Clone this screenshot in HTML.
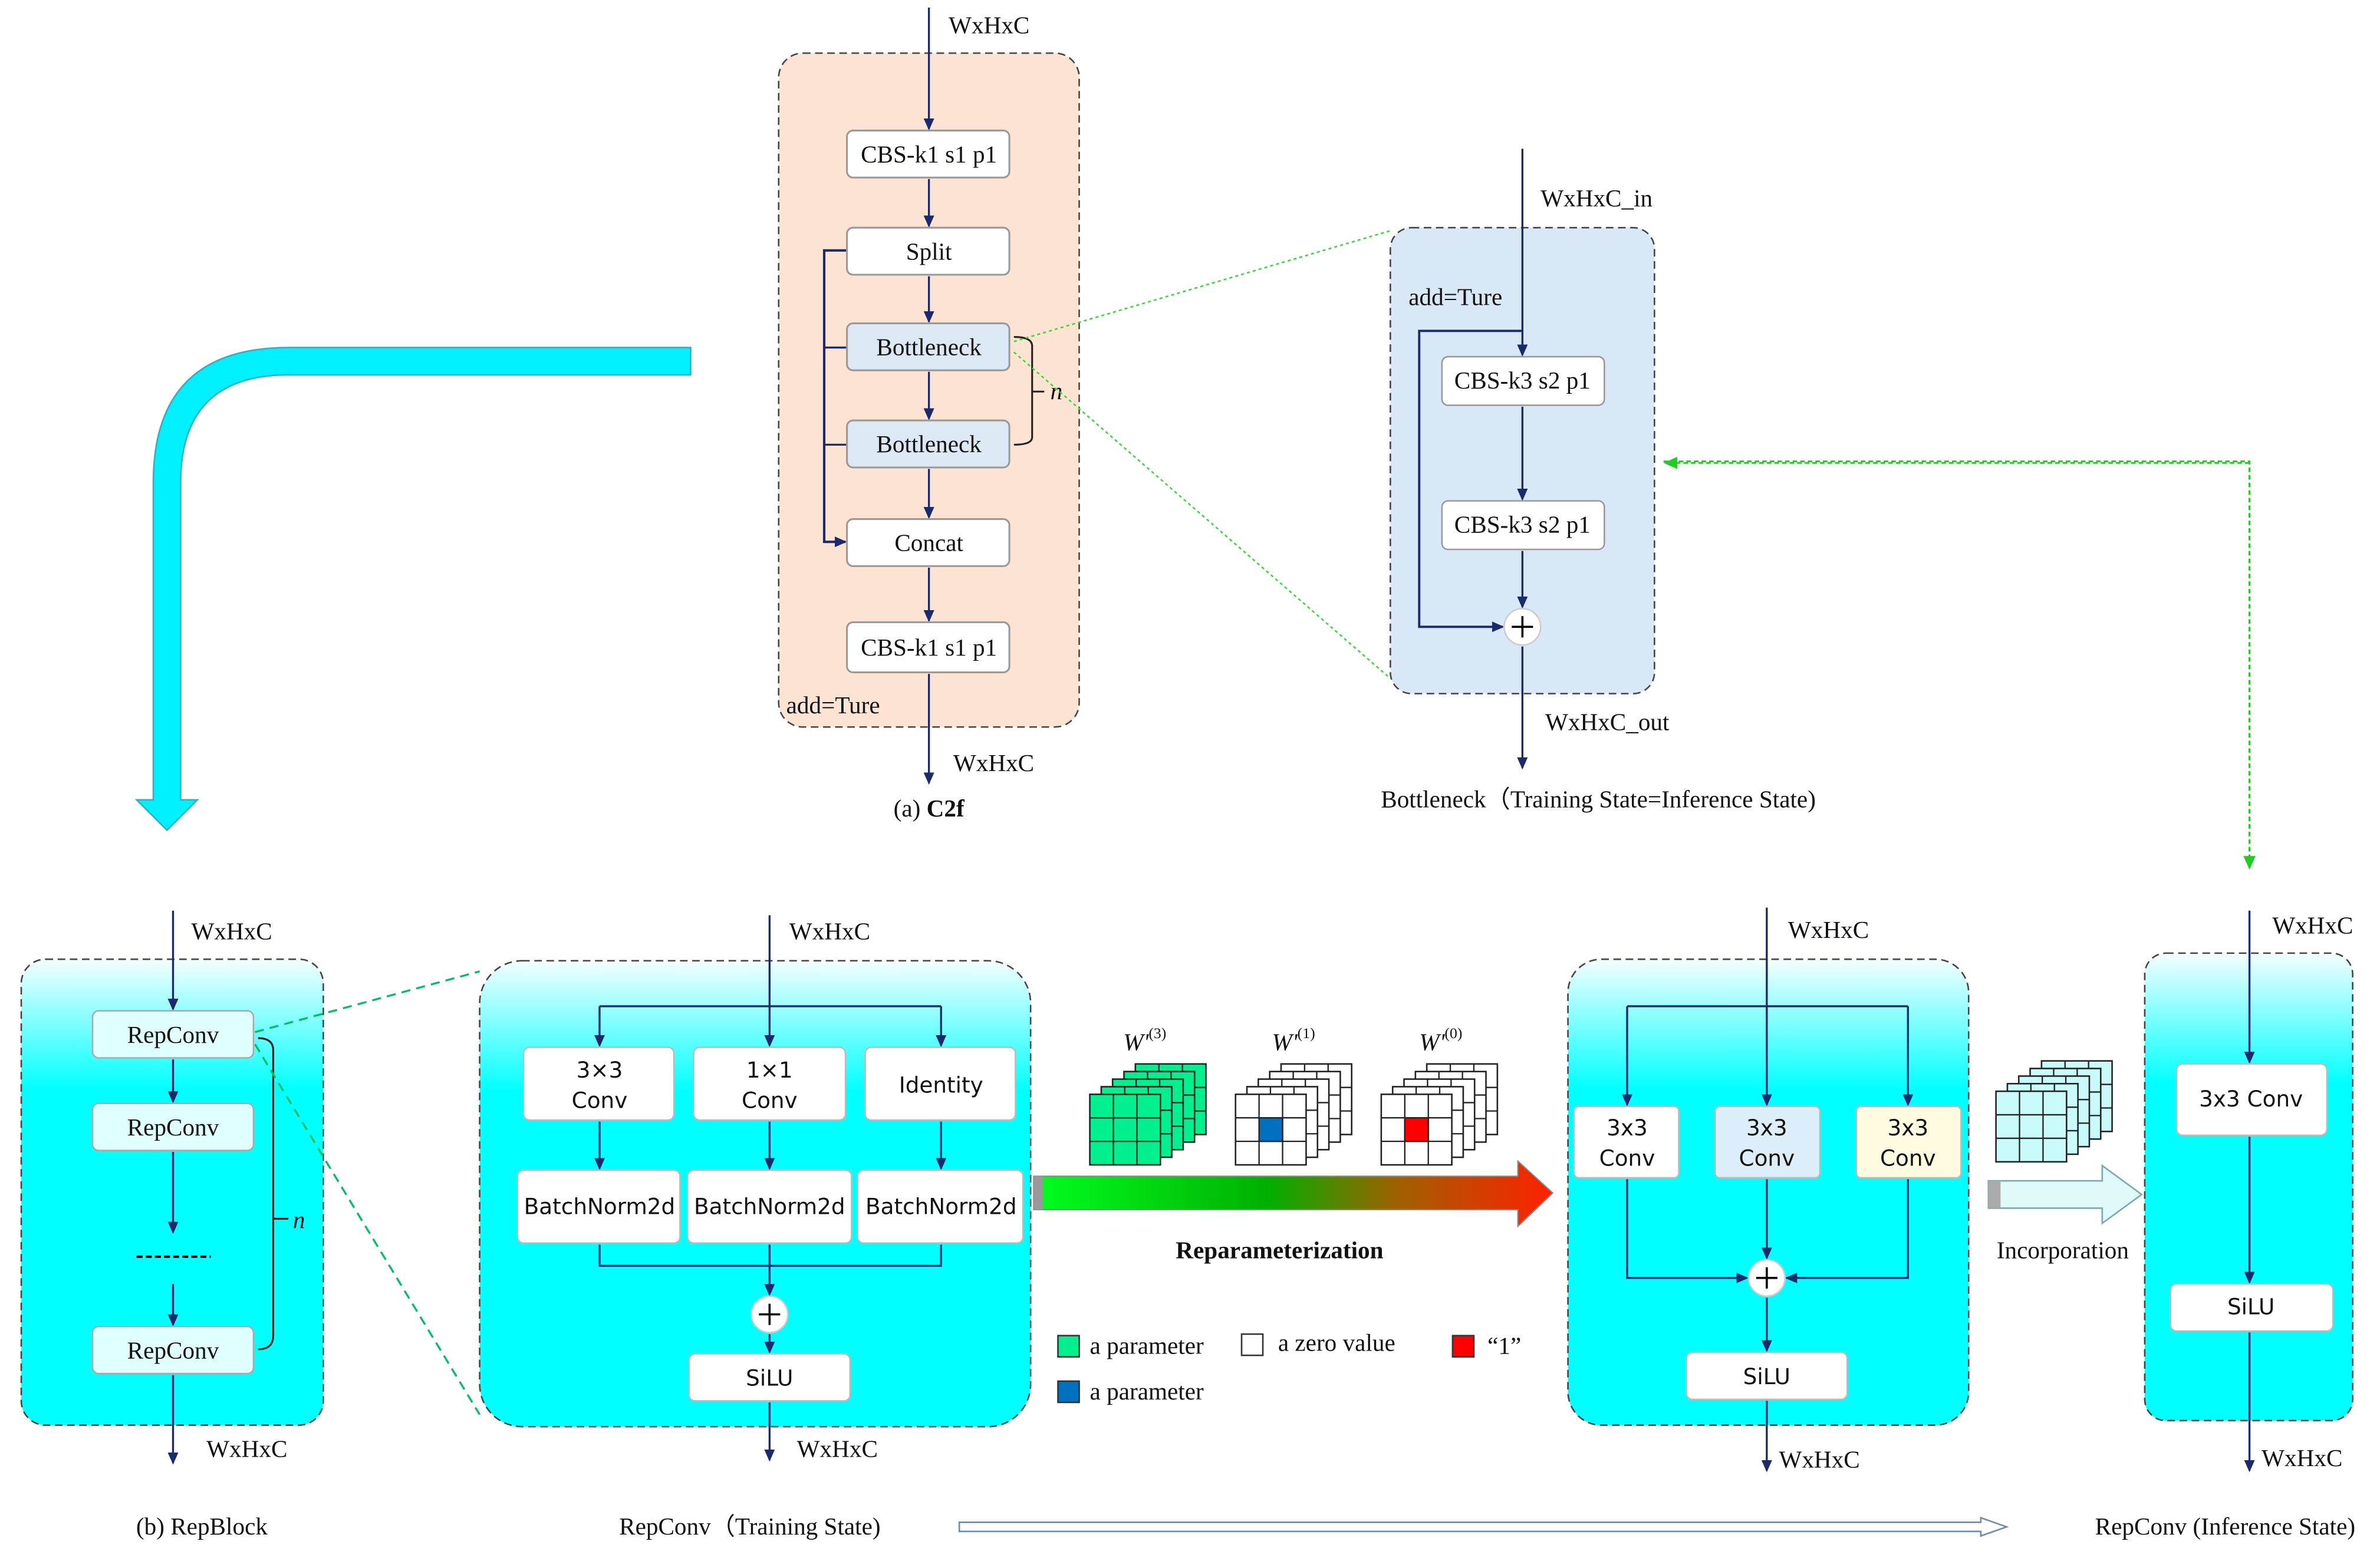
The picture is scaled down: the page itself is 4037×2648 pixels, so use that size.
<!DOCTYPE html>
<html><head><meta charset="utf-8"><style>
html,body{margin:0;padding:0;background:#fff;}
svg{display:block;}
text{font-family:"Liberation Serif",serif;font-size:16px;fill:#111;}
.s{font-family:"DejaVu Sans","Liberation Sans",sans-serif;font-size:14.5px;}
</style></head><body>
<svg xmlns="http://www.w3.org/2000/svg" xmlns:xlink="http://www.w3.org/1999/xlink" width="4037" height="2648" viewBox="0 0 1568 1028.5" preserveAspectRatio="none">
<defs>
<marker id="a" markerWidth="8" markerHeight="8" refX="7" refY="4" orient="auto" markerUnits="userSpaceOnUse"><path d="M0,0.5 L8,4 L0,7.5 Z" fill="#1a2a6c"/></marker>
<marker id="g" markerWidth="9" markerHeight="9" refX="8" refY="4.5" orient="auto" markerUnits="userSpaceOnUse"><path d="M0,0.5 L9,4.5 L0,8.5 Z" fill="#22cc22"/></marker>
<linearGradient id="cy" x1="0" y1="0" x2="0" y2="1"><stop offset="0" stop-color="#f4feff"/><stop offset="0.28" stop-color="#00ffff"/><stop offset="1" stop-color="#00ffff"/></linearGradient>
<linearGradient id="rg" x1="0" y1="0" x2="1" y2="0"><stop offset="0" stop-color="#00ff20"/><stop offset="0.45" stop-color="#00b000"/><stop offset="0.7" stop-color="#a06000"/><stop offset="1" stop-color="#ff2000"/></linearGradient>
<g id="grid"><path d="M15.5,0 V46.5 M31,0 V46.5 M0,15.5 H46.5 M0,31 H46.5" stroke="#222" stroke-width="0.9" fill="none"/><rect x="0" y="0" width="46.5" height="46.5" fill="none" stroke="#222" stroke-width="1"/></g>
<g id="LG"><rect width="46.5" height="46.5" fill="#00f090"/><use xlink:href="#grid"/></g>
<g id="LW"><rect width="46.5" height="46.5" fill="#fff"/><use xlink:href="#grid"/></g>
<g id="LC"><rect width="46.5" height="46.5" fill="#c8fafa"/><use xlink:href="#grid"/></g>
<g id="SG"><use xlink:href="#LG" x="30" y="-20"/><use xlink:href="#LG" x="22.5" y="-15"/><use xlink:href="#LG" x="15" y="-10"/><use xlink:href="#LG" x="7.5" y="-5"/><use xlink:href="#LG"/></g>
<g id="SW"><use xlink:href="#LW" x="30" y="-20"/><use xlink:href="#LW" x="22.5" y="-15"/><use xlink:href="#LW" x="15" y="-10"/><use xlink:href="#LW" x="7.5" y="-5"/><use xlink:href="#LW"/></g>
<g id="SC"><use xlink:href="#LC" x="30" y="-20"/><use xlink:href="#LC" x="22.5" y="-15"/><use xlink:href="#LC" x="15" y="-10"/><use xlink:href="#LC" x="7.5" y="-5"/><use xlink:href="#LC"/></g>
</defs>

<!-- C2f -->
<rect x="513" y="35" width="198" height="444" rx="16" fill="#fde3d2" stroke="#444" stroke-dasharray="5,3"/>
<g stroke="#1a2a6c" stroke-width="1.3" fill="none" marker-end="url(#a)">
<line x1="612" y1="5" x2="612" y2="85"/>
<line x1="612" y1="118" x2="612" y2="149"/>
<line x1="612" y1="182" x2="612" y2="212"/>
<line x1="612" y1="245" x2="612" y2="276"/>
<line x1="612" y1="309" x2="612" y2="341"/>
<line x1="612" y1="374" x2="612" y2="409"/>
<line x1="612" y1="444" x2="612" y2="516"/>
<path d="M558,165 H543 V357 H557" stroke-width="1.6"/>
</g>
<g stroke="#1a2a6c" stroke-width="1.3"><line x1="543" y1="229" x2="558" y2="229"/><line x1="543" y1="293" x2="558" y2="293"/></g>
<path d="M668,222 Q680,222 680,228 V288 Q680,293 668,293 M680,258 H688" stroke="#222" fill="none" stroke-width="1.2"/>
<text x="692" y="263" font-style="italic">n</text>
<g stroke="#999" stroke-width="1.2">
<rect x="558" y="86" width="107" height="31" rx="4" fill="#fff"/>
<rect x="558" y="150" width="107" height="31" rx="4" fill="#fff"/>
<rect x="558" y="213" width="107" height="31" rx="4" fill="#dce9f5"/>
<rect x="558" y="277" width="107" height="31" rx="4" fill="#dce9f5"/>
<rect x="558" y="342" width="107" height="31" rx="4" fill="#fff"/>
<rect x="558" y="410" width="107" height="33" rx="4" fill="#fff"/>
</g>
<g text-anchor="middle">
<text x="612" y="107">CBS-k1 s1 p1</text>
<text x="612" y="171">Split</text>
<text x="612" y="234">Bottleneck</text>
<text x="612" y="298">Bottleneck</text>
<text x="612" y="363">Concat</text>
<text x="612" y="432">CBS-k1 s1 p1</text>
<text x="612" y="538">(a) <tspan font-weight="bold">C2f</tspan></text>
</g>
<text x="625" y="22">WxHxC</text>
<text x="628" y="508">WxHxC</text>
<text x="518" y="470">add=Ture</text>

<!-- Bottleneck -->
<line x1="668" y1="225" x2="916" y2="152" stroke="#33dd33" stroke-width="1" stroke-dasharray="2,2"/>
<line x1="668" y1="232" x2="916" y2="447" stroke="#33dd33" stroke-width="1" stroke-dasharray="2,2"/>
<rect x="916" y="150" width="174" height="307" rx="14" fill="#d9e8f6" stroke="#444" stroke-dasharray="5,3"/>
<g stroke="#1a2a6c" stroke-width="1.3" fill="none" marker-end="url(#a)">
<line x1="1003" y1="98" x2="1003" y2="234"/>
<line x1="1003" y1="268" x2="1003" y2="329"/>
<line x1="1003" y1="363" x2="1003" y2="400"/>
<line x1="1003" y1="426" x2="1003" y2="506"/>
<path d="M1003,218 H935 V413 H990" stroke-width="1.5"/>
</g>
<rect x="950" y="235" width="107" height="32" rx="4" fill="#fff" stroke="#999"/>
<rect x="950" y="330" width="107" height="32" rx="4" fill="#fff" stroke="#999"/>
<circle cx="1003" cy="413" r="12" fill="#fff" stroke="#ccc"/>
<path d="M996,413 H1010 M1003,406 V420" stroke="#000" stroke-width="1.4"/>
<g text-anchor="middle"><text x="1003" y="256">CBS-k3 s2 p1</text><text x="1003" y="351">CBS-k3 s2 p1</text>
<text x="1053" y="532">Bottleneck（Training State=Inference State)</text></g>
<text x="1015" y="136">WxHxC_in</text>
<text x="928" y="201">add=Ture</text>
<text x="1018" y="481">WxHxC_out</text>

<path d="M1096,304 H1482 V572" stroke="#22cc22" stroke-width="1.2" fill="none" stroke-dasharray="3,2" marker-end="url(#g)"/>
<path d="M1482,305 H1097" stroke="#22cc22" stroke-width="1.2" fill="none" stroke-dasharray="3,2" marker-end="url(#g)"/>

<!-- cyan arrow -->
<path d="M455,229 H190 Q101,229 101,318 V527 H90 L110,547 L130,527 H119 V318 Q119,247 190,247 H455 Z" fill="#00f0ff" stroke="#30b0c0" stroke-width="1"/>

<!-- RepBlock -->
<rect x="14" y="632" width="199" height="307" rx="16" fill="url(#cy)" stroke="#444" stroke-dasharray="5,3"/>
<g stroke="#1a2a6c" stroke-width="1.3" fill="none" marker-end="url(#a)">
<line x1="114" y1="600" x2="114" y2="665"/>
<line x1="114" y1="698" x2="114" y2="726"/>
<line x1="114" y1="759" x2="114" y2="812"/>
<line x1="114" y1="846" x2="114" y2="873"/>
<line x1="114" y1="906" x2="114" y2="964"/>
</g>
<line x1="90" y1="828" x2="139" y2="828" stroke="#000" stroke-width="1.5" stroke-dasharray="4,2"/>
<path d="M170,684 Q180,684 180,692 V880 Q180,889 170,889 M180,803 H190" stroke="#222" fill="none" stroke-width="1.2"/>
<text x="193" y="809" font-style="italic">n</text>
<g stroke="#aaa" fill="#e0ffff"><rect x="61" y="666" width="106" height="31" rx="4"/><rect x="61" y="727" width="106" height="31" rx="4"/><rect x="61" y="874" width="106" height="31" rx="4"/></g>
<g text-anchor="middle"><text x="114" y="687">RepConv</text><text x="114" y="748">RepConv</text><text x="114" y="895">RepConv</text>
<text x="133" y="1011">(b) RepBlock</text><text x="494" y="1011">RepConv（Training State)</text><text x="1466" y="1011">RepConv (Inference State)</text></g>
<text x="126" y="619">WxHxC</text><text x="136" y="960">WxHxC</text>
<line x1="168" y1="680" x2="316" y2="640" stroke="#00c060" stroke-width="1.3" stroke-dasharray="6,4"/>
<line x1="168" y1="688" x2="316" y2="932" stroke="#00c060" stroke-width="1.3" stroke-dasharray="6,4"/>

<!-- RepConv training -->
<rect x="316" y="633" width="363" height="307" rx="28" fill="url(#cy)" stroke="#444" stroke-dasharray="5,3"/>
<g stroke="#1a2a6c" stroke-width="1.3" fill="none">
<line x1="507" y1="603" x2="507" y2="663"/>
<line x1="395" y1="663" x2="620" y2="663"/>
<path d="M395,820 V834 H620 V820 M507,820 V834"/>
</g>
<g stroke="#1a2a6c" stroke-width="1.3" fill="none" marker-end="url(#a)">
<line x1="395" y1="663" x2="395" y2="689"/><line x1="507" y1="663" x2="507" y2="689"/><line x1="620" y1="663" x2="620" y2="689"/>
<line x1="395" y1="739" x2="395" y2="770"/><line x1="507" y1="739" x2="507" y2="770"/><line x1="620" y1="739" x2="620" y2="770"/>
<line x1="507" y1="834" x2="507" y2="853"/>
<line x1="507" y1="879" x2="507" y2="891"/>
<line x1="507" y1="924" x2="507" y2="962"/>
</g>
<g stroke="#bbb" fill="#fff">
<rect x="345" y="690" width="99" height="48" rx="4"/><rect x="457" y="690" width="100" height="48" rx="4"/><rect x="570" y="690" width="99" height="48" rx="4"/>
<rect x="341" y="771" width="107" height="48" rx="4"/><rect x="453" y="771" width="108" height="48" rx="4"/><rect x="565" y="771" width="109" height="48" rx="4"/>
<rect x="454" y="892" width="106" height="31" rx="4"/>
</g>
<circle cx="507" cy="866" r="12" fill="#fff" stroke="#ccc"/>
<path d="M500,866 H514 M507,859 V873" stroke="#000" stroke-width="1.4"/>
<g text-anchor="middle">
<text class="s" x="395" y="710">3×3</text><text class="s" x="395" y="730">Conv</text>
<text class="s" x="507" y="710">1×1</text><text class="s" x="507" y="730">Conv</text>
<text class="s" x="620" y="720">Identity</text>
<text class="s" x="395" y="800">BatchNorm2d</text><text class="s" x="507" y="800">BatchNorm2d</text><text class="s" x="620" y="800">BatchNorm2d</text>
<text class="s" x="507" y="913">SiLU</text>
</g>
<text x="520" y="619">WxHxC</text><text x="525" y="960">WxHxC</text>

<!-- reparam arrow -->
<path d="M681,775 H1000 V765 L1023,786 L1000,808 V797 H681 Z" fill="url(#rg)" stroke="#888" stroke-width="0.8"/>
<rect x="681" y="775" width="6" height="22" fill="#999"/>
<text x="843" y="829" text-anchor="middle" font-weight="bold">Reparameterization</text>
<g font-style="italic" font-size="19"><text x="740" y="692" font-size="19">W'<tspan font-size="10" dy="-8" font-style="normal">(3)</tspan></text>
<text x="838" y="692" font-size="19">W'<tspan font-size="10" dy="-8" font-style="normal">(1)</tspan></text>
<text x="935" y="692" font-size="19">W'<tspan font-size="10" dy="-8" font-style="normal">(0)</tspan></text></g>
<use xlink:href="#SG" x="718" y="721"/>
<use xlink:href="#SW" x="814" y="721"/>
<rect x="829.5" y="736.5" width="15.5" height="15.5" fill="#0070c0" stroke="#222" stroke-width="0.9"/>
<use xlink:href="#SW" x="910" y="721"/>
<rect x="925.5" y="736.5" width="15.5" height="15.5" fill="#ff0000" stroke="#222" stroke-width="0.9"/>
<use xlink:href="#SC" x="1315" y="719"/>

<!-- legend -->
<rect x="697" y="880" width="14" height="14" fill="#00f090" stroke="#333"/><text x="718" y="892">a parameter</text>
<rect x="697" y="910" width="14" height="14" fill="#0070c0" stroke="#333"/><text x="718" y="922">a parameter</text>
<rect x="818" y="879" width="14" height="14" fill="#fff" stroke="#333"/><text x="842" y="890">a zero value</text>
<rect x="957" y="880" width="14" height="14" fill="#ff0000" stroke="#333"/><text x="980" y="892">“1”</text>

<!-- inference mid -->
<rect x="1033" y="632" width="264" height="307" rx="22" fill="url(#cy)" stroke="#444" stroke-dasharray="5,3"/>
<g stroke="#1a2a6c" stroke-width="1.3" fill="none">
<line x1="1164" y1="598" x2="1164" y2="663"/><line x1="1072" y1="663" x2="1257" y2="663"/>
</g>
<g stroke="#1a2a6c" stroke-width="1.3" fill="none" marker-end="url(#a)">
<line x1="1072" y1="663" x2="1072" y2="728"/><line x1="1164" y1="663" x2="1164" y2="728"/><line x1="1257" y1="663" x2="1257" y2="728"/>
<path d="M1072,777 V842 H1151"/><path d="M1257,777 V842 H1177"/>
<line x1="1164" y1="777" x2="1164" y2="829"/>
<line x1="1164" y1="855" x2="1164" y2="890"/>
<line x1="1164" y1="923" x2="1164" y2="969"/>
</g>
<rect x="1037" y="729" width="69" height="47" rx="3" fill="#fff" stroke="#bbb"/>
<rect x="1130" y="729" width="69" height="47" rx="3" fill="#dceefa" stroke="#bbb"/>
<rect x="1223" y="729" width="69" height="47" rx="3" fill="#fffbe0" stroke="#bbb"/>
<rect x="1111" y="891" width="106" height="31" rx="4" fill="#fff" stroke="#bbb"/>
<circle cx="1164" cy="842" r="12" fill="#fff" stroke="#ccc"/>
<path d="M1157,842 H1171 M1164,835 V849" stroke="#000" stroke-width="1.4"/>
<g text-anchor="middle">
<text class="s" x="1072" y="748">3x3</text><text class="s" x="1072" y="768">Conv</text>
<text class="s" x="1164" y="748">3x3</text><text class="s" x="1164" y="768">Conv</text>
<text class="s" x="1257" y="748">3x3</text><text class="s" x="1257" y="768">Conv</text>
<text class="s" x="1164" y="912">SiLU</text>
</g>
<text x="1178" y="618">WxHxC</text><text x="1172" y="967">WxHxC</text>

<!-- incorporation -->
<path d="M1310,778 H1385 V768 L1411,787 L1385,806 V796 H1310 Z" fill="#e0fafa" stroke="#7aa" stroke-width="1"/>
<rect x="1310" y="778" width="8" height="18" fill="#aaa"/>
<text x="1359" y="829" text-anchor="middle">Incorporation</text>

<!-- final -->
<rect x="1413" y="628" width="137" height="308" rx="14" fill="url(#cy)" stroke="#444" stroke-dasharray="5,3"/>
<g stroke="#1a2a6c" stroke-width="1.3" fill="none" marker-end="url(#a)">
<line x1="1482" y1="600" x2="1482" y2="700"/><line x1="1482" y1="749" x2="1482" y2="845"/><line x1="1482" y1="878" x2="1482" y2="969"/>
</g>
<rect x="1434" y="701" width="99" height="47" rx="4" fill="#fff" stroke="#bbb"/>
<rect x="1430" y="846" width="107" height="31" rx="4" fill="#fff" stroke="#bbb"/>
<text class="s" x="1483" y="729" text-anchor="middle">3x3 Conv</text>
<text class="s" x="1483" y="866" text-anchor="middle">SiLU</text>
<text x="1497" y="615">WxHxC</text><text x="1490" y="966">WxHxC</text>

<!-- bottom arrow -->
<path d="M632,1003 H1305 V1000 L1322,1006 L1305,1012 V1009 H632 Z" fill="#fff" stroke="#6a8ab8" stroke-width="1"/>
</svg>
</body></html>
